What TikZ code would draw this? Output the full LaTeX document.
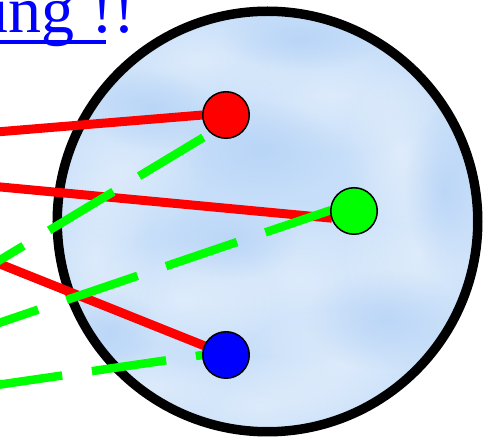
\documentclass[tikz,border=0pt]{standalone}
\usepackage{fontspec}
\setmainfont{Liberation Serif}
\usetikzlibrary{fadings}
\definecolor{skybase}{RGB}{198,222,249}
\definecolor{skydark}{RGB}{182,211,247}
\definecolor{linegreen}{RGB}{0,255,0}
\definecolor{dotgreen}{RGB}{0,255,0}
\tikzfading[name=softblob, inner color=transparent!0, outer color=transparent!100]
\begin{document}
\begin{tikzpicture}[x=1pt,y=-1pt,
  dotnode/.style={circle, draw=black, line width=1.5pt, minimum size=46.5pt, inner sep=0pt, outer sep=0pt},
  disknode/.style={circle, draw=black, fill=skybase, line width=9.5pt, minimum size=420.5pt, inner sep=0pt, outer sep=0pt},
  redline/.style={draw=red, line width=9pt},
  greenline/.style={draw=linegreen, line width=8.5pt, dash pattern=on 75pt off 30pt},
  lightblob/.style={fill=white, opacity=0.4, path fading=softblob},
  darkblob/.style={fill=skydark, opacity=0.8, path fading=softblob}]
\useasboundingbox (0,0) rectangle (483,438);

% disk
\node[disknode] (disk) at (267.5,221.5) {};
\begin{scope}
  \clip (267.5,221.5) circle (205.5);
  \fill[lightblob] (200,60) ellipse (110 and 50);
  \fill[lightblob] (330,95) ellipse (120 and 60);
  \fill[lightblob] (120,170) ellipse (90 and 70);
  \fill[lightblob] (300,280) ellipse (140 and 80);
  \fill[lightblob] (420,250) ellipse (80 and 120);
  \fill[lightblob] (180,300) ellipse (100 and 60);
  \fill[lightblob] (260,405) ellipse (120 and 50);
  \fill[lightblob] (400,150) ellipse (60 and 80);
  \fill[lightblob] (150,385) ellipse (80 and 40);
  \fill[lightblob] (340,365) ellipse (100 and 60);
  \fill[lightblob] (95,260) ellipse (60 and 100);
  \fill[darkblob] (260,150) ellipse (80 and 50);
  \fill[darkblob] (150,110) ellipse (60 and 40);
  \fill[darkblob] (385,320) ellipse (80 and 50);
  \fill[darkblob] (230,240) ellipse (70 and 40);
  \fill[darkblob] (445,190) ellipse (40 and 80);
  \fill[darkblob] (300,40) ellipse (80 and 30);
  \fill[darkblob] (110,330) ellipse (50 and 40);
\end{scope}

% dots (anchors for the connectors; drawn on top below)
\path (226,115) coordinate (rc) (354,211) coordinate (gc) (226,355) coordinate (bc);
\node[dotnode, draw=none] (r) at (rc) {};
\node[dotnode, draw=none] (g) at (gc) {};
\node[dotnode, draw=none] (b) at (bc) {};

% free ends
\coordinate (rl1) at (-10,132.5);
\coordinate (rl2) at (-10,186);
\coordinate (rl3) at (-10,260);
\coordinate (gl1) at (-10,266);
\coordinate (gl2) at (-10,326);
\coordinate (gl3) at (-10,386);

% red lines
\draw[redline] (rl1) -- (r.180);
\draw[redline] (rl2) -- (g.198);
\draw[redline] (rl3) -- (b.157);

% green dashed lines
\draw[greenline, dash phase=96pt] (r.230) -- (gl1);
\draw[greenline, dash phase=6pt] (g.178) -- (gl2);
\draw[greenline, dash phase=68pt] (b.180) -- (gl3);

% dots on top
\node[dotnode, fill=red] (rdot) at (rc) {};
\node[dotnode, fill=dotgreen] (gdot) at (gc) {};
\node[dotnode, fill=blue] (bdot) at (bc) {};

% title text
\node[anchor=base west, inner sep=0pt, text=blue, font=\fontsize{66}{70}\selectfont] (title) at (-24.5,33) {ung !!};
\fill[blue] (-30,40) rectangle (106,44.5);
\end{tikzpicture}
\end{document}
